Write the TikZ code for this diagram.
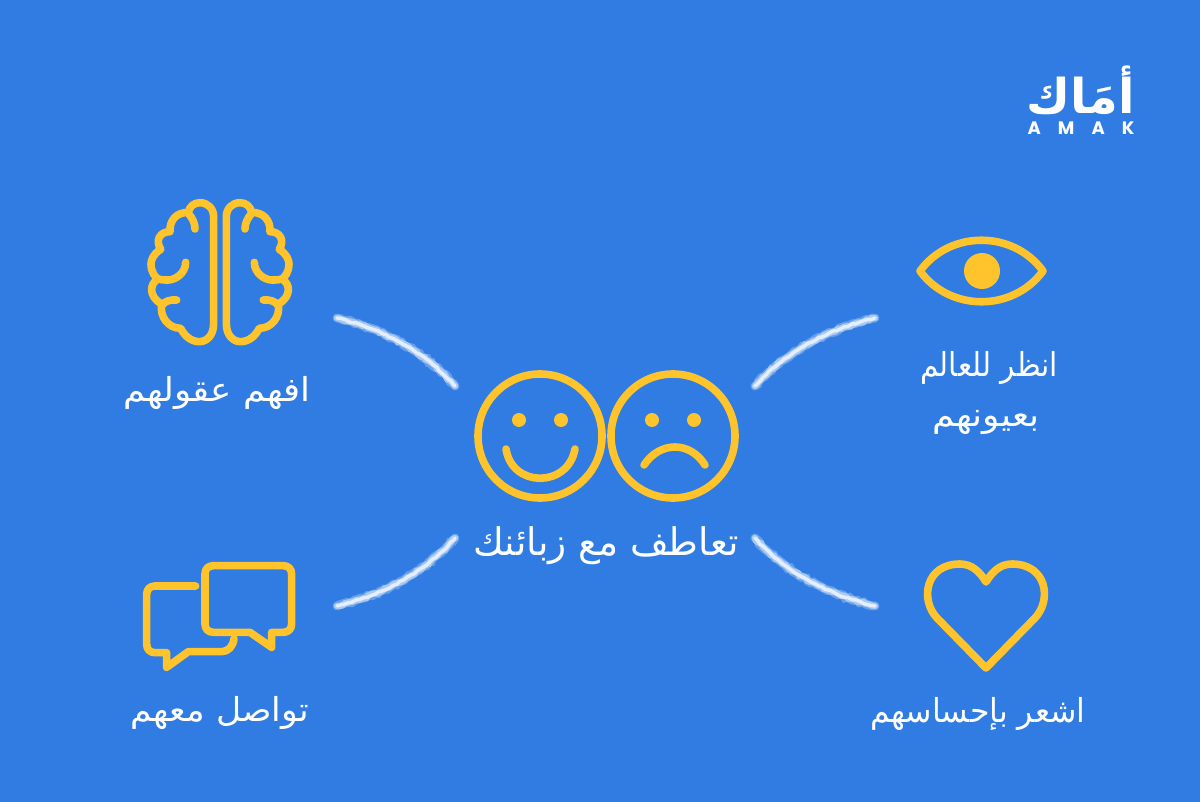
\documentclass[tikz,border=0pt]{standalone}
\usepackage{fontspec}
\usetikzlibrary{decorations.pathmorphing}
\TeXXeTstate=1
\newfontfamily\arabicfont[Script=Arabic]{DejaVu Sans}
\newfontfamily\arabicbold[Script=Arabic]{DejaVu Sans Bold}
\newfontfamily\logofont[LetterSpace=95]{Poppins}
\definecolor{bgblue}{RGB}{48,124,226}
\definecolor{iconyellow}{RGB}{255,196,43}
\definecolor{chalk}{RGB}{225,237,252}
\tikzset{
  icon/.style={draw=iconyellow,line width=7.6pt,line cap=round,line join=round},
  iconfill/.style={fill=iconyellow,draw=none},
  label/.style={text=white,font=\arabicfont\fontsize{33}{38}\selectfont,inner sep=0pt,anchor=center,transform shape},
  title/.style={text=white,font=\arabicfont\fontsize{38}{44}\selectfont,inner sep=0pt,anchor=center,transform shape},
  chalkhalo/.style={draw=chalk,opacity=.3,line width=9pt,line cap=round,decorate,decoration={random steps,segment length=3pt,amplitude=1pt}},
  chalkmid/.style={draw=chalk,opacity=.55,line width=6.5pt,line cap=round,decorate,decoration={random steps,segment length=3pt,amplitude=.9pt}},
  chalkcore/.style={draw=white,opacity=.7,line width=3.4pt,line cap=round,decorate,decoration={random steps,segment length=4pt,amplitude=.7pt}},
}
\newcommand{\hemi}{%
  (281,110) .. controls (281,85) and (262,68) .. (240,68)
  .. controls (222,68) and (208,80) .. (205,97)
  .. controls (170,97) and (148,120) .. (150,155)
  .. controls (120,155) and (105,180) .. (122,208)
  .. controls (100,222) and (93,240) .. (93,252)
  .. controls (93,275) and (105,292) .. (115,297)
  .. controls (88,310) and (85,350) .. (125,372)
  .. controls (118,410) and (145,445) .. (182,445)
  .. controls (195,470) and (215,485) .. (238,485)
  .. controls (262,485) and (281,465) .. (281,430) -- cycle
  (225,147) .. controls (225,130) and (218,115) .. (205,100)
  (197,247) .. controls (197,280) and (165,300) .. (145,300)
  .. controls (132,300) and (122,300) .. (115,297)
  (170,360) .. controls (150,358) and (130,365) .. (125,378)}
\begin{document}
\begin{tikzpicture}[x=1pt,y=-1pt]
\useasboundingbox (0,0) rectangle (1200,802);
\fill[bgblue] (0,0) rectangle (1200,802);

% logo
\node[text=white,inner sep=0pt,font=\arabicbold\fontsize{48}{52}\selectfont] (logoar) at (1081,90) {\beginR أمَاك\endR};
\node[text=white,inner sep=0pt,font=\logofont\bfseries\fontsize{18}{20}\selectfont] (logoen) at (1081,128) {AMAK};

% brain
\begin{scope}[shift={(120,180)},x=.3333pt,y=-.3333pt]
  \draw[icon] \hemi;
  \begin{scope}[shift={(600,0)},xscale=-1]
    \draw[icon] \hemi;
  \end{scope}
\end{scope}
\node[label,xscale=1.08] (brainlabel) at (217,393) {\beginR افهم عقولهم\endR};

% speech bubbles
\begin{scope}[shift={(120,540)},x=.3333pt,y=-.3333pt]
  \draw[icon] (280,77) -- (490,77) .. controls (505,77) and (515,87) .. (515,102)
    -- (515,252) .. controls (515,267) and (505,277) .. (490,277)
    -- (455,277) -- (455,322) -- (390,277) -- (280,277)
    .. controls (265,277) and (255,267) .. (255,252) -- (255,102)
    .. controls (255,87) and (265,77) .. (280,77) -- cycle;
  \draw[icon] (227,138) -- (105,138) .. controls (90,138) and (80,148) .. (80,163)
    -- (80,313) .. controls (80,328) and (90,338) .. (105,338)
    -- (140,338) -- (140,382) -- (205,335) -- (305,335)
    .. controls (325,335) and (340,318) .. (342,296);
\end{scope}
\node[label,xscale=1.05] (talklabel) at (220,713) {\beginR تواصل معهم\endR};

% eye
\draw[icon] (920,271) .. controls (950,230) and (1013,230) .. (1043,271)
  .. controls (1013,312) and (950,312) .. (920,271) -- cycle;
\fill[iconfill] (982,271) circle (18);
\node[label,xscale=.9] (eyelabela) at (989,368) {\beginR انظر للعالم\endR};
\node[label,xscale=1.09] (eyelabelb) at (986,422) {\beginR بعيونهم\endR};

% heart
\draw[icon] (986,668) -- (937,618) .. controls (920,600) and (925,564) .. (960,564)
  .. controls (972,564) and (980,572) .. (986,582)
  .. controls (992,572) and (1000,564) .. (1012,564)
  .. controls (1047,564) and (1052,600) .. (1035,618) -- cycle;
\node[label,xscale=.955] (heartlabel) at (978,714) {\beginR اشعر بإحساسهم\endR};

% faces
\draw[icon] (540,436) circle (62);
\fill[iconfill] (519,420) circle (7);
\fill[iconfill] (561,420) circle (7);
\draw[icon] (506,449) .. controls (512,488) and (568,488) .. (575,449);
\draw[icon] (673,436) circle (62);
\fill[iconfill] (652,420) circle (7);
\fill[iconfill] (694,420) circle (7);
\draw[icon] (644,465) .. controls (660,441) and (690,441) .. (705,465);
\node[title,xscale=.985] (centerlabel) at (606,546) {\beginR تعاطف مع زبائنك\endR};

% chalk strokes
\coordinate (tlA) at (337,318); \coordinate (tlB) at (455,386);
\coordinate (trA) at (875,318); \coordinate (trB) at (755,386);
\coordinate (blA) at (337,606); \coordinate (blB) at (455,538);
\coordinate (brA) at (875,606); \coordinate (brB) at (755,538);
\pgfmathsetseed{7}
\foreach \st in {chalkhalo,chalkmid,chalkcore}{
  \draw[\st] (tlA) .. controls (385,330) and (425,352) .. (tlB);
  \draw[\st] (trA) .. controls (827,330) and (785,352) .. (trB);
  \draw[\st] (blA) .. controls (385,594) and (425,572) .. (blB);
  \draw[\st] (brA) .. controls (827,594) and (785,572) .. (brB);
}
\end{tikzpicture}
\end{document}
